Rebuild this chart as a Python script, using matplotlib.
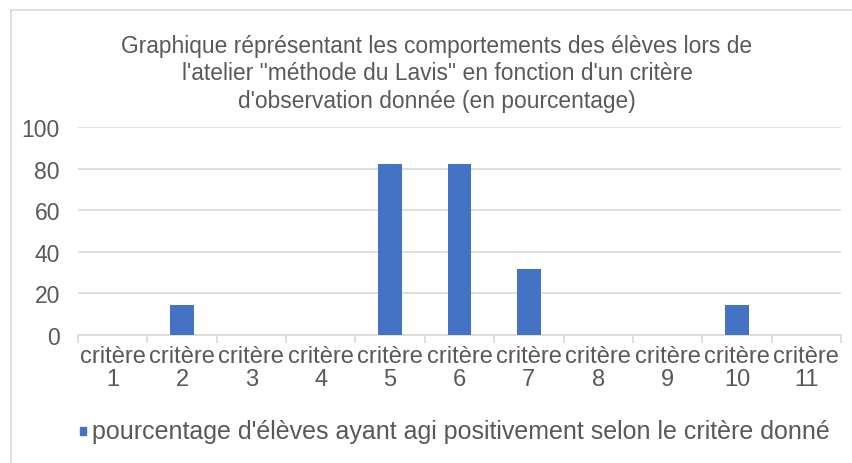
import matplotlib
matplotlib.use("Agg")
import matplotlib.pyplot as plt
from matplotlib.patches import Rectangle
from matplotlib.lines import Line2D

plt.rcParams['font.family'] = ['Liberation Sans', 'DejaVu Sans']

categories = ["critère\n1", "critère\n2", "critère\n3", "critère\n4", "critère\n5", "critère\n6",
              "critère\n7", "critère\n8", "critère\n9", "critère\n10", "critère\n11"]
values = [0, 14.5, 0, 0, 82, 82, 31.5, 0, 0, 14.5, 0]
yticks = [0, 20, 40, 60, 80, 100]
series_name = "pourcentage d'élèves ayant agi positivement selon le critère donné"
title = ("Graphique réprésentant les comportements des élèves lors de\n"
         "l'atelier \"méthode du Lavis\" en fonction d'un critère\n"
         "d'observation donnée (en pourcentage)")

W, H = 853, 464
fig = plt.figure(figsize=(W / 100, H / 100), dpi=100)
txt = "#595959"
grid = "#D9D9D9"
bar_c = "#4472C4"

# outer border
fig.add_artist(Line2D([11 / W, 11 / W], [0, 1 - 11 / H], transform=fig.transFigure, color=grid, lw=1.2))
fig.add_artist(Line2D([11 / W, 1], [1 - 11 / H, 1 - 11 / H], transform=fig.transFigure, color=grid, lw=1.2))

ax = fig.add_axes([78 / W, (H - 336) / H, (841 - 78) / W, (336 - 128) / H])
x = list(range(len(categories)))
ax.bar(x, values, width=0.345, color=bar_c, zorder=3)
ax.set_xlim(-0.5, len(categories) - 0.5)
ax.set_ylim(0, 100)
ax.set_yticks(yticks)
ax.set_yticklabels([str(v) for v in yticks], fontsize=16.5, color=txt)
ax.tick_params(axis='y', length=0, pad=13)
ax.set_xticks(x)
ax.set_xticklabels(categories, fontsize=17, color=txt, linespacing=1.03)
ax.tick_params(axis='x', length=0, pad=7.5)
ax.set_xticks([i - 0.5 for i in range(len(categories) + 1)], minor=True)
ax.tick_params(axis='x', which='minor', length=6, color=grid, width=1.2)
for s in ['top', 'right', 'left']:
    ax.spines[s].set_visible(False)
ax.spines['bottom'].set_color(grid)
ax.spines['bottom'].set_linewidth(1.2)
ax.yaxis.grid(True, color=grid, lw=1.2, zorder=0)
ax.set_axisbelow(True)

fig.text(437 / W, 1 - 74 / H, title, ha='center', va='center', fontsize=16.4, color=txt, linespacing=1.24)

# legend
fig.add_artist(Rectangle((80 / W, 1 - 436 / H), 6 / W, 8 / H, transform=fig.transFigure, color=bar_c))
fig.text(92 / W, 1 - 432 / H, series_name, ha='left', va='center', fontsize=18, color=txt)

fig.savefig("out.png", dpi=100)
